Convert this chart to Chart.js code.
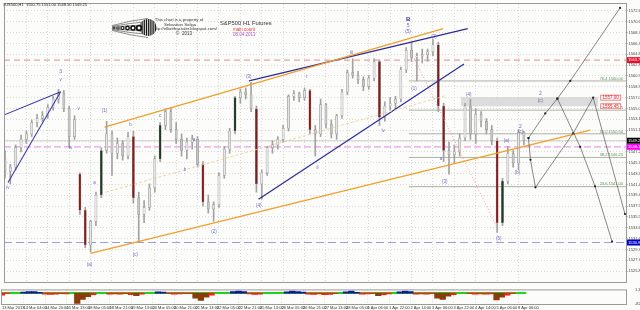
<!DOCTYPE html>
<html><head><meta charset="utf-8">
<script src="https://cdn.jsdelivr.net/npm/chart.js@4.4.1/dist/chart.umd.min.js"></script>
<style>
html,body{margin:0;padding:0;background:#fcfcfa;width:640px;height:310px;overflow:hidden}
#wrap{position:relative;width:640px;height:310px;background:#fcfcfa}
#main{position:absolute;left:0;top:0}
#ind{position:absolute;left:0;top:286px}
</style></head><body>
<div id="wrap"><canvas id="main" width="640" height="286"></canvas><canvas id="ind" width="640" height="24"></canvas></div>
<script>
// ---------- DATA ----------
const tickLabels = ["13 Mar 2013","14 Mar 04:00","14 Mar 20:00","15 Mar 13:00","18 Mar 05:00","18 Mar 21:00","19 Mar 13:00","20 Mar 05:00","20 Mar 21:00","21 Mar 13:00","22 Mar 05:00","22 Mar 21:00","25 Mar 13:00","26 Mar 05:00","26 Mar 21:00","27 Mar 13:00","28 Mar 05:00","1 Apr 06:00","1 Apr 22:00","2 Apr 14:00","3 Apr 06:00","3 Apr 22:00","4 Apr 14:00","5 Apr 06:00","8 Apr 06:00"];
const priceTicks = [1572.60,1570.65,1568.70,1566.75,1564.80,1562.85,1560.90,1558.95,1557.00,1555.05,1553.10,1551.15,1549.20,1547.25,1545.30,1543.35,1541.40,1539.45,1537.50,1535.55,1533.60,1531.65,1529.70,1527.75,1525.80];

const opens  = [1546.0,1543.75,1544.5,1548.0,1549.5,1550.5,1552.5,1553.25,1553.75,1555.25,1556.75,1557.75,1555.0,1550.0,1543.25,1536.75,1530.5,1534.75,1539.5,1547.5,1550.5,1547.0,1548.75,1546.5,1550.0,1539.0,1536.0,1537.25,1540.75,1546.0,1552.0,1554.5,1551.25,1549.5,1547.5,1549.0,1549.5,1545.0,1538.25,1537.0,1537.75,1543.0,1547.75,1551.0,1557.0,1558.0,1557.5,1555.0,1541.5,1543.5,1548.0,1548.5,1549.5,1551.5,1557.25,1557.75,1557.0,1558.25,1551.25,1550.5,1555.75,1552.25,1550.5,1553.75,1558.0,1561.5,1561.0,1560.25,1559.0,1560.5,1563.5,1553.5,1555.5,1556.0,1556.75,1562.0,1565.5,1564.25,1564.5,1564.75,1565.25,1566.5,1555.5,1547.5,1546.75,1547.25,1549.75,1555.5,1550.5,1554.0,1552.75,1551.25,1549.25,1534.5,1542.0,1547.0,1545.25,1550.75];
const highs  = [1547.5,1545.0,1548.5,1550.25,1551.0,1553.0,1554.0,1554.5,1555.75,1557.25,1558.5,1558.25,1555.5,1553.75,1543.5,1537.25,1535.0,1540.0,1548.0,1552.75,1551.0,1549.75,1549.25,1550.75,1551.0,1540.0,1538.5,1541.5,1546.5,1552.5,1555.0,1555.25,1552.5,1550.5,1549.75,1550.25,1550.0,1545.5,1539.5,1538.25,1543.5,1548.25,1551.5,1557.25,1558.5,1558.75,1559.75,1555.5,1544.0,1548.25,1549.25,1550.0,1552.0,1557.5,1558.25,1558.0,1558.75,1558.5,1552.0,1556.75,1556.0,1553.0,1554.0,1558.5,1562.0,1564.0,1561.75,1560.75,1561.0,1564.0,1563.75,1556.25,1557.0,1557.25,1562.5,1566.0,1567.0,1565.0,1565.75,1565.75,1567.5,1567.0,1556.0,1549.0,1548.5,1550.5,1556.0,1556.75,1555.0,1554.5,1553.25,1552.0,1549.75,1542.5,1548.25,1547.5,1551.25,1551.0];
const lows   = [1542.5,1541.5,1544.0,1547.25,1548.75,1550.0,1551.75,1552.75,1553.25,1554.75,1556.0,1554.5,1548.0,1549.5,1536.0,1530.0,1529.25,1534.0,1539.0,1547.0,1543.0,1546.0,1545.75,1546.0,1538.0,1531.0,1534.5,1536.75,1540.0,1545.5,1551.25,1550.75,1548.75,1546.5,1546.0,1547.75,1544.5,1537.5,1536.25,1534.75,1537.25,1542.5,1547.0,1550.5,1556.0,1556.75,1554.5,1540.0,1538.75,1543.0,1547.0,1547.75,1549.0,1551.0,1556.5,1556.25,1556.5,1550.5,1546.5,1550.0,1551.5,1549.75,1549.5,1553.25,1557.5,1560.5,1559.5,1558.25,1558.5,1560.0,1552.0,1552.75,1554.75,1555.0,1556.25,1561.5,1563.5,1560.0,1563.25,1563.5,1564.5,1554.5,1545.5,1543.25,1545.25,1546.5,1549.25,1549.5,1548.75,1551.75,1550.5,1548.5,1532.75,1534.0,1541.5,1544.5,1544.0,1548.5];
const closes = [1543.75,1544.5,1548.0,1549.5,1550.5,1552.5,1553.25,1553.75,1555.25,1556.75,1557.75,1555.0,1550.0,1553.0,1536.75,1530.5,1534.75,1539.5,1547.5,1550.5,1547.0,1548.75,1546.5,1550.0,1539.0,1536.0,1537.25,1540.75,1546.0,1552.0,1554.5,1551.25,1549.5,1547.5,1549.0,1549.5,1545.0,1538.25,1537.0,1537.75,1543.0,1547.75,1551.0,1557.0,1558.0,1557.5,1555.0,1541.5,1543.5,1548.0,1548.5,1549.5,1551.5,1557.25,1557.75,1557.0,1558.25,1551.25,1550.5,1555.75,1552.25,1550.5,1553.75,1558.0,1561.5,1561.0,1560.25,1559.0,1560.5,1563.5,1553.5,1555.5,1556.0,1556.75,1562.0,1565.5,1564.25,1564.5,1564.75,1565.25,1566.5,1555.5,1547.5,1546.75,1547.25,1549.75,1555.5,1550.5,1554.0,1552.75,1551.25,1549.25,1534.5,1542.0,1547.0,1545.25,1550.75,1549.25];

const indicator = [-2,-0.5,0.3,0.5,1.0,1.5,1.5,0.8,-1,-1.2,-1,-0.5,-0.8,0.3,-10,-6,-3.5,-1.5,0.3,0.5,-1,-0.8,-1,-0.6,-1.5,-2.5,-1,0.3,0.5,1.2,1.0,-0.5,-1,-0.8,-0.5,-0.6,-5,-7,-4,-2,0.3,0.5,0.6,1.5,2.0,1.5,-0.8,-1.2,-1,0.3,0.3,0.4,0.5,1.2,1.8,1.5,1.0,-1,-1.2,-0.8,-1.5,-1.2,-0.5,0.5,1.2,1.8,0.8,-1,-0.8,-0.6,-2.5,-1.5,-0.8,0.3,1.2,1.8,1.5,-1,-0.8,-1,-0.6,-5,-6,-3,-1.5,0.3,0.5,-0.6,-1,-0.8,-1,-0.8,-6.5,-4,-2,-0.5,0.3,0.3];
const indicatorTickLabels = ["1.3780","-82.7988"];

// levels
const levelRed = 1563.75, levelCurrent = 1549.25, levelMagenta = 1548.15, levelBlue = 1530.95;
const fibRatios = [76.4, 61.8, 50.0, 38.2, 23.6];
const fibPrices = [1560.00, 1554.75, 1550.50, 1546.25, 1541.00];
const fibStartIdx = 75.5;
const boxTop = 1557.00, boxBottom = 1555.45, boxStartIdx = 85.2, boxEndIdx = 110.9;

// trend lines [index, price]
const orangeUpper = [[18.6,1551.68],[81.9,1569.41]];
const orangeLower = [[16.0,1528.99],[109.4,1551.15]];
const orangeMid   = [[18.8,1539.98],[82.4,1557.35]];
const blueUpper   = [[45.6,1560.01],[86.5,1569.41]];
const blueLower   = [[47.4,1538.74],[85.8,1563.03]];
const blueLeftTop = [[-0.37,1553.81],[10.4,1558.06]];
const blueLeftLow = [[0.56,1541.75],[10.4,1558.06]];
const pinkDotted  = [[76.5,1564.09],[92.1,1533.42]];
const projUp    = [[97.86,1549.73],[101.0,1554.16],[103.26,1556.82],[105.67,1560.01],[114.98,1573.13]];
const projDownA = [[103.26,1556.82],[107.53,1548.14],[110.3,1541.05],[113.49,1531.12]];
const projZig   = [[97.86,1549.73],[98.23,1545.83],[99.16,1540.87],[106.23,1550.62],[109.95,1557.0],[115.9,1536.08]];

// wave labels
const waveText  = ["iv","3","v","iv","v","(a)","a","(1)","b","(c)","c","b","a","(2)","(3)","(4)","i","ii","iii","iv","B","5","(5)","(1)","(2)","a","(3)","(4)","(5)","(a)","(b)","2","(c)","2","(c)"];
const waveIdx   = [0.56,10.42,10.42,12.28,13.77,15.81,16.74,18.6,23.44,24.37,29.02,33.67,35.35,39.07,45.58,47.44,56.37,58.42,64.74,70.70,75.35,75.35,75.35,76.47,80.19,81.49,82.23,86.70,92.28,93.77,95.81,96.37,96.37,100.09,100.09];
const wavePrice = [1540.87,1561.61,1560.19,1547.96,1555.05,1526.87,1541.75,1554.70,1552.04,1528.81,1553.81,1544.06,1549.38,1532.89,1560.72,1537.50,1560.72,1544.41,1565.15,1550.97,1571.00,1569.94,1568.88,1558.60,1567.99,1546.01,1541.93,1557.53,1531.65,1549.20,1543.53,1551.86,1550.80,1557.71,1556.47];

const headerText = "#US500,H1  1550.75 1551.00 1548.50 1549.25";

// ---------- LAYOUT / STYLE ----------
const X_MIN = -0.186, X_MAX = 116.09;
const Y_MIN = 1523.85, Y_MAX = 1573.84;
const FONT = "'Liberation Sans', Arial, sans-serif";
const xTickVals = tickLabels.map((_, k) => k * 4);
const lastIdx = closes.length - 1;

function pts(arr){ return arr.map(p => ({x:p[0], y:p[1]})); }
function hline(price, x0){ return [{x:x0, y:price},{x:X_MAX, y:price}]; }
function bodyColor(i){
  const d = closes[i] - opens[i];
  if (d <= -6) return '#8b1a1a';
  if (d >= 6) return '#203820';
  return d >= 0 ? '#e6e6e6' : '#c6c6c6';
}
function lineDs(data, color, width, dash, order){
  return {type:'line', data: pts(data), borderColor: color, borderWidth: width, borderDash: dash || [], pointRadius: 0, order: order, tension: 0, fill: false};
}

const annot = {
  id: 'annot',
  beforeDraw(chart){
    const {ctx} = chart;
    ctx.save(); ctx.fillStyle = '#fcfcfa'; ctx.fillRect(0,0,chart.width,chart.height); ctx.restore();
  },
  afterDatasetsDraw(chart){
    const {ctx, scales:{x, y}, chartArea:a} = chart;
    ctx.save();
    ctx.textAlign = 'center'; ctx.textBaseline = 'middle';
    waveText.forEach((t, i) => {
      const px = x.getPixelForValue(waveIdx[i]), py = y.getPixelForValue(wavePrice[i]);
      if (t === 'B') { ctx.font = 'bold 6px ' + FONT; ctx.fillStyle = '#2a2aa0'; }
      else if (/^\d$/.test(t)) { ctx.font = '5px ' + FONT; ctx.fillStyle = '#8a5ab8'; }
      else { ctx.font = '4.5px ' + FONT; ctx.fillStyle = '#6f68c4'; }
      ctx.fillText(t, px, py);
    });
    ctx.textAlign = 'right'; ctx.textBaseline = 'bottom'; ctx.font = '4px ' + FONT; ctx.fillStyle = '#5f8f5f';
    fibRatios.forEach((r, i) => {
      const py = y.getPixelForValue(fibPrices[i]);
      ctx.fillText(r.toFixed(1) + ' ' + fibPrices[i].toFixed(2), a.right - 3, py - 0.3);
    });
    [boxTop, boxBottom].forEach(p => {
      const py = y.getPixelForValue(p);
      const bx = x.getPixelForValue(boxEndIdx) + 2;
      ctx.fillStyle = '#fff4f4'; ctx.fillRect(bx, py - 3, 21, 6);
      ctx.strokeStyle = '#e06060'; ctx.lineWidth = 0.7; ctx.strokeRect(bx + 0.5, py - 2.5, 20, 5);
      ctx.fillStyle = '#e02828'; ctx.textAlign = 'center'; ctx.textBaseline = 'middle'; ctx.font = '4.5px ' + FONT;
      ctx.fillText(p.toFixed(2), bx + 10.5, py + 0.2);
    });
    ctx.restore();
  },
  afterDraw(chart){
    const {ctx, scales:{y}, chartArea:a} = chart;
    ctx.save();
    ctx.strokeStyle = '#9a9a9a'; ctx.lineWidth = 1;
    ctx.strokeRect(a.left + 0.5, a.top - 0.5, a.right - a.left, a.bottom - a.top + 1);
    const tags = [[levelRed,'#e8102a'],[levelCurrent,'#000000'],[levelMagenta,'#ff00ff'],[levelBlue,'#0000c8']];
    tags.forEach(([p, c]) => {
      const py = y.getPixelForValue(p);
      ctx.fillStyle = c; ctx.fillRect(a.right + 1, py - 3, 13, 6);
      ctx.fillStyle = '#ffffff'; ctx.font = '4px ' + FONT; ctx.textAlign = 'left'; ctx.textBaseline = 'middle';
      ctx.fillText(p.toFixed(2), a.right + 2, py + 0.2);
    });
    ctx.fillStyle = '#222'; ctx.font = '4px ' + FONT; ctx.textAlign = 'left'; ctx.textBaseline = 'middle';
    ctx.fillText(headerText, 3, 5);
    ctx.textAlign = 'center'; ctx.fillStyle = '#333'; ctx.font = '4.3px ' + FONT;
    ctx.fillText('This chart is a property of', 179, 20);
    ctx.fillText('Sebastian Seliga', 180, 24.5);
    ctx.fillText('http://elliottfractaler.blogspot.com/', 185, 29);
    ctx.font = '4.5px ' + FONT; ctx.fillText('\u00A9  2013', 184, 34);
    ctx.textAlign = 'left'; ctx.fillStyle = '#333'; ctx.font = '5.8px ' + FONT;
    ctx.fillText('S&P500 H1 Futures', 220, 23);
    ctx.fillStyle = '#e23a3a'; ctx.font = '4.5px ' + FONT; ctx.fillText('main count', 233, 30);
    ctx.fillStyle = '#b05ad0'; ctx.fillText('08.04.2013', 233, 34.5);
    // logo
    ctx.strokeStyle = '#222'; ctx.lineWidth = 0.5;
    for (let k = -3; k <= 3; k++) {
      ctx.beginPath(); ctx.moveTo(112, 28 + k * 0.8);
      ctx.quadraticCurveTo(130, 28 + k * 2.5, 148, 28 + k * 3.2); ctx.stroke();
    }
    ctx.beginPath(); ctx.arc(148, 27.5, 8.5, 0, Math.PI * 2); ctx.fillStyle = '#111'; ctx.fill();
    ctx.save(); ctx.beginPath(); ctx.arc(148, 27.5, 8.5, 0, Math.PI * 2); ctx.clip();
    ctx.strokeStyle = '#fcfcfa'; ctx.lineWidth = 0.9;
    for (let sx = 141; sx < 157; sx += 2.2) { ctx.beginPath(); ctx.moveTo(sx, 18); ctx.lineTo(sx, 37); ctx.stroke(); }
    ctx.restore();
    [[139,3.2],[133,2.8],[127.5,2.4],[122.5,2],[118,1.6],[114,1.2]].forEach(([cx, r]) => {
      ctx.beginPath(); ctx.arc(cx, 28, r, 0, Math.PI * 2); ctx.fillStyle = '#111'; ctx.fill();
      ctx.beginPath(); ctx.arc(cx, 28, r * 0.45, 0, Math.PI * 2); ctx.fillStyle = '#fcfcfa'; ctx.fill();
    });
    ctx.restore();
  }
};

const candleIdx = closes.map((_, i) => i);
const mainData = {
  datasets: [
    {type:'line', data: pts(projUp), borderColor:'#555', borderWidth:0.7, pointRadius:1.1, pointBackgroundColor:'#222', pointBorderWidth:0, order:0, fill:false},
    {type:'line', data: pts(projDownA), borderColor:'#555', borderWidth:0.7, pointRadius:1.1, pointBackgroundColor:'#222', pointBorderWidth:0, order:0, fill:false},
    {type:'line', data: pts(projZig), borderColor:'#555', borderWidth:0.7, pointRadius:1.1, pointBackgroundColor:'#222', pointBorderWidth:0, order:0, fill:false},
    lineDs(orangeUpper, '#f0a02a', 1.3, [], 1),
    lineDs(orangeLower, '#f0a02a', 1.3, [], 1),
    lineDs(orangeMid, '#f4c890', 0.8, [3,2], 1),
    lineDs(blueUpper, '#2a2a9a', 1.2, [], 1),
    lineDs(blueLower, '#2a2a9a', 1.2, [], 1),
    lineDs(blueLeftTop, '#3a3aa8', 1.1, [], 1),
    lineDs(blueLeftLow, '#3a3aa8', 1.1, [], 1),
    lineDs(pinkDotted, '#e89090', 0.8, [1,2], 1),
    {type:'bar', data: candleIdx.map(i => ({x:i, y:[opens[i], closes[i]]})), barThickness: 2.2, grouped:false,
      backgroundColor: ctx => bodyColor(ctx.dataIndex), borderColor:'#8e8e8e', borderWidth:0.5, borderSkipped:false, order:2},
    {type:'bar', data: candleIdx.map(i => ({x:i, y:[lows[i], highs[i]]})), barThickness: 1, grouped:false,
      backgroundColor:'#a2a2a2', borderWidth:0, order:3},
    {type:'line', data: hline(levelRed, X_MIN), borderColor:'#eaa0a0', borderWidth:1.3, borderDash:[6,4], pointRadius:0, order:4, fill:false},
    {type:'line', data: hline(levelCurrent, X_MIN), borderColor:'#cfcfcf', borderWidth:1, pointRadius:0, order:4, fill:false},
    {type:'line', data: hline(levelMagenta, X_MIN), borderColor:'#ec9cec', borderWidth:1.4, borderDash:[7,3], pointRadius:0, order:4, fill:false},
    {type:'line', data: hline(levelBlue, X_MIN), borderColor:'#9a9ae0', borderWidth:1.1, borderDash:[8,4], pointRadius:0, order:4, fill:false},
    ...fibPrices.map(p => ({type:'line', data: hline(p, fibStartIdx), borderColor:'#a4aa9c', borderWidth:0.9, pointRadius:0, order:4, fill:false})),
    {type:'line', data: [{x:boxStartIdx, y:boxTop},{x:boxEndIdx, y:boxTop}], borderColor:'#c8c8c8', borderWidth:0.5, pointRadius:0,
      backgroundColor:'#dcdcdc', fill:{value: boxBottom}, order:5}
  ]
};

new Chart(document.getElementById('main'), {
  type: 'bar',
  data: mainData,
  options: {
    responsive:false, animation:false, events:[],
    layout:{padding:{left:1, top:2, right:0, bottom:2}},
    plugins:{legend:{display:false}, tooltip:{enabled:false}},
    scales:{
      x:{type:'linear', min:X_MIN, max:X_MAX, offset:false,
         afterBuildTicks: s => { s.ticks = xTickVals.map(v => ({value:v})); },
         afterFit: s => { s.height = 0; },
         ticks:{display:false}, grid:{color:'#d9d9d9', drawTicks:false, offset:false},
         border:{display:false, dash:[1,2]}},
      y:{type:'linear', position:'right', min:Y_MIN, max:Y_MAX,
         afterBuildTicks: s => { s.ticks = priceTicks.map(v => ({value:v})); },
         afterFit: s => { s.width = 14; },
         ticks:{font:{size:4, family:FONT}, color:'#444', padding:1, callback: v => v.toFixed(2)},
         grid:{color:'#dadada', tickLength:1.5, tickColor:'#888'},
         border:{display:false, dash:[1,2]}}
    }
  },
  plugins:[annot]
});

function indColor(v){
  if (v > 0.7) return '#1414a0';
  if (v >= -0.4) return '#22cc22';
  if (v > -2.2) return '#ff1a1a';
  return '#8a3c0c';
}
const indFrame = {
  id:'indFrame',
  beforeDraw(chart){ const {ctx} = chart; ctx.save(); ctx.fillStyle = '#fcfcfa'; ctx.fillRect(0,0,chart.width,chart.height); ctx.restore(); },
  afterDraw(chart){
    const {ctx, chartArea:a} = chart;
    ctx.save(); ctx.strokeStyle = '#9a9a9a'; ctx.lineWidth = 1;
    ctx.strokeRect(a.left + 0.5, a.top + 0.5, a.right - a.left, a.bottom - a.top);
    ctx.restore();
  }
};
new Chart(document.getElementById('ind'), {
  type:'bar',
  data:{datasets:[
    {type:'bar', data: indicator.map((v, i) => ({x:i, y:[0, v]})), barThickness:5.6, grouped:false,
      backgroundColor: c => indColor(indicator[c.dataIndex]), borderWidth:0, order:0},
    {type:'line', data:[{x:-0.19, y:0},{x:lastIdx + 0.5, y:0}], borderColor:'#22dd22', borderWidth:2, pointRadius:0, order:1, fill:false}
  ]},
  options:{
    responsive:false, animation:false, events:[],
    layout:{padding:{left:1, top:1, right:0, bottom:0}},
    plugins:{legend:{display:false}, tooltip:{enabled:false}},
    scales:{
      x:{type:'linear', min:X_MIN, max:X_MAX, offset:false,
         afterBuildTicks: s => { s.ticks = xTickVals.map(v => ({value:v})); },
         afterFit: s => { s.height = 6; },
         ticks:{font:{size:4, family:FONT}, color:'#333', padding:1, align:'start', maxRotation:0, minRotation:0, autoSkip:false,
                callback: v => tickLabels[Math.round(v / 4)]},
         grid:{color:'#d9d9d9', drawTicks:false, offset:false},
         border:{display:false, dash:[1,2]}},
      y:{type:'linear', position:'right', min:-10.5, max:3.5,
         afterBuildTicks: s => { s.ticks = [{value:3.5},{value:-10.5}]; },
         afterFit: s => { s.width = 14; },
         ticks:{font:{size:4, family:FONT}, color:'#444', padding:1, callback: (v, k) => indicatorTickLabels[k]},
         grid:{display:false},
         border:{display:false}}
    }
  },
  plugins:[indFrame]
});
</script>
</body></html>
